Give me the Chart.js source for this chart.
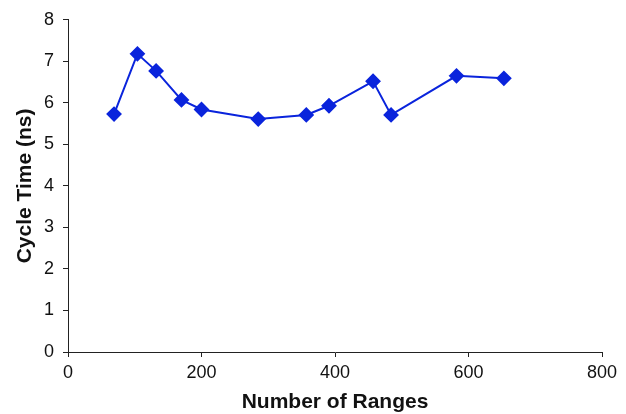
<!DOCTYPE html>
<html>
<head>
<meta charset="utf-8">
<script src="https://cdn.jsdelivr.net/npm/chart.js@4/dist/chart.umd.min.js"></script>
<style>
  html, body { margin: 0; padding: 0; background: #fff; }
  #wrap { width: 626px; height: 414px; }
</style>
</head>
<body>
<div id="wrap"><canvas id="c" width="626" height="414"></canvas></div>
<script>
// Cycle time measured against the number of ranges
const ranges = [69, 104, 132, 170, 200, 285, 357, 391, 457, 484, 582, 653];
const cycleTimeNs = [5.73, 7.18, 6.77, 6.07, 5.84, 5.61, 5.71, 5.93, 6.52, 5.71, 6.65, 6.59];
const xTicks = [0, 200, 400, 600, 800];
const yTicks = [0, 1, 2, 3, 4, 5, 6, 7, 8];

const blue = '#0a24dc';
const points = ranges.map((x, i) => ({ x: x, y: cycleTimeNs[i] }));

const axisColor = '#222';
const tickFont = { family: 'Liberation Sans, Arial, sans-serif', size: 18 };
const titleFont = { family: 'Liberation Sans, Arial, sans-serif', size: 21, weight: 'bold', lineHeight: 1.15 };

new Chart(document.getElementById('c'), {
  type: 'scatter',
  data: {
    datasets: [{
      data: points,
      showLine: true,
      borderColor: blue,
      backgroundColor: blue,
      borderWidth: 2,
      pointStyle: 'rectRot',
      pointRadius: 6.5,
      pointHoverRadius: 6.5,
      tension: 0
    }]
  },
  options: {
    responsive: false,
    animation: false,
    devicePixelRatio: 1,
    layout: { padding: { left: 0, right: 24, top: 18, bottom: 0 } },
    plugins: { legend: { display: false }, tooltip: { enabled: false } },
    scales: {
      x: {
        type: 'linear',
        min: 0, max: 800,
        afterBuildTicks: s => { s.ticks = xTicks.map(v => ({ value: v })); },
        afterFit: s => { s.height = 62; },
        grid: { display: true, drawOnChartArea: false, drawTicks: true, tickLength: 5, color: axisColor, lineWidth: 1 },
        border: { display: true, color: axisColor, width: 1 },
        ticks: { color: '#111', font: tickFont, padding: 5, maxRotation: 0 },
        title: { display: true, text: 'Number of Ranges', color: '#111', font: titleFont, padding: { top: 0, bottom: 0 } }
      },
      y: {
        type: 'linear',
        min: 0, max: 8,
        afterBuildTicks: s => { s.ticks = yTicks.map(v => ({ value: v })); },
        afterFit: s => { s.width = 68; },
        grid: { display: true, drawOnChartArea: false, drawTicks: true, tickLength: 5, color: axisColor, lineWidth: 1 },
        border: { display: true, color: axisColor, width: 1 },
        ticks: { color: '#111', font: tickFont, padding: 9 },
        title: { display: true, text: 'Cycle Time (ns)', color: '#111', font: titleFont, padding: { top: 13, bottom: 0 } }
      }
    }
  }
});
</script>
</body>
</html>
